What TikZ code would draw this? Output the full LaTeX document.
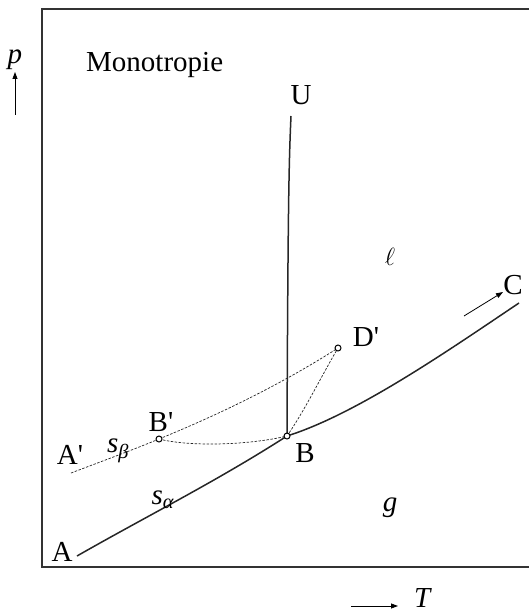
\documentclass[tikz,border=0pt]{standalone}
\usepackage{fontspec}
\setmainfont{Liberation Serif}
\usetikzlibrary{arrows.meta}
\newcommand{\prm}{\textquotesingle}
\begin{document}
\begin{tikzpicture}[x=1pt,y=-1pt,
  lbl/.style={inner sep=0pt,font=\fontsize{29}{32}\selectfont},
  curve/.style={line width=1.5pt,draw=black!85},
  dashcurve/.style={line width=0.7pt,dash pattern=on 2.5pt off 1.5pt,draw=black!85},
  pt/.style={circle,draw=black,fill=white,line width=1pt,inner sep=0pt,minimum size=6pt},
  axarrow/.style={line width=0.8pt,-{Triangle[length=7pt,width=5pt]}}]
\useasboundingbox (0,0) rectangle (528,615);
% frame
\draw[line width=1.6pt,draw=black!80] (530,9) -- (42,9) -- (42,567) -- (530,567);
% coordinates
\coordinate (A) at (77,556);
\coordinate (B) at (287,436);
\coordinate (C) at (519,303);
\coordinate (U) at (291,116);
\coordinate (Ap) at (71,473);
\coordinate (Bp) at (159,439);
\coordinate (Dp) at (338,348);
% solid curves
\draw[curve] (A) .. controls (147,516) and (217,481) .. (B);
\draw[curve] (B) .. controls (357,414) and (449,350) .. (C);
\draw[curve] (U) .. controls (289,160) and (288,200) .. (B);
% dashed curves
\draw[dashcurve] (Ap) .. controls (100,462) and (130,451) .. (Bp);
\draw[dashcurve] (Bp) .. controls (220,414) and (280,385) .. (Dp);
\draw[dashcurve] (Bp) .. controls (190,447) and (250,445) .. (B);
\draw[dashcurve] (B) .. controls (305,410) and (322,375) .. (Dp);
% points
\node[pt] (nB) at (B) {};
\node[pt] (nBp) at (Bp) {};
\node[pt] (nDp) at (Dp) {};
% labels
\node[lbl,anchor=base west] (mono) at (86,72) {Monotropie};
\node[lbl] (lp) at (15,60) {\textit{p}};
\coordinate (pa0) at (15,115);
\coordinate (pa1) at (15,72);
\draw[axarrow] (pa0) -- (pa1);
\node[lbl] (lU) at (301,95) {U};
\node[lbl] (lell) at (390,257) {$\ell$};
\node[lbl] (lC) at (513,285) {C};
\coordinate (ca0) at (464,316);
\coordinate (ca1) at (503,292);
\draw[axarrow] (ca0) -- (ca1);
\node[lbl] (lDp) at (366,337) {D\prm};
\node[lbl] (lBp) at (161,422) {B\prm};
\node[lbl] (lAp) at (70,455) {A\prm};
\node[lbl] (lsb) at (118,451) {\textit{s}\textsubscript{\textit{β}}};
\node[lbl] (lB) at (305,453) {B};
\node[lbl] (lA) at (62,552) {A};
\node[lbl] (lsa) at (163,500) {\textit{s}\textsubscript{\textit{α}}};
\node[lbl] (lg) at (390,508) {\textit{g}};
\node[lbl] (lT) at (423,598) {\textit{T}};
\coordinate (ta0) at (351,606);
\coordinate (ta1) at (398,606);
\draw[axarrow] (ta0) -- (ta1);
\end{tikzpicture}
\end{document}
